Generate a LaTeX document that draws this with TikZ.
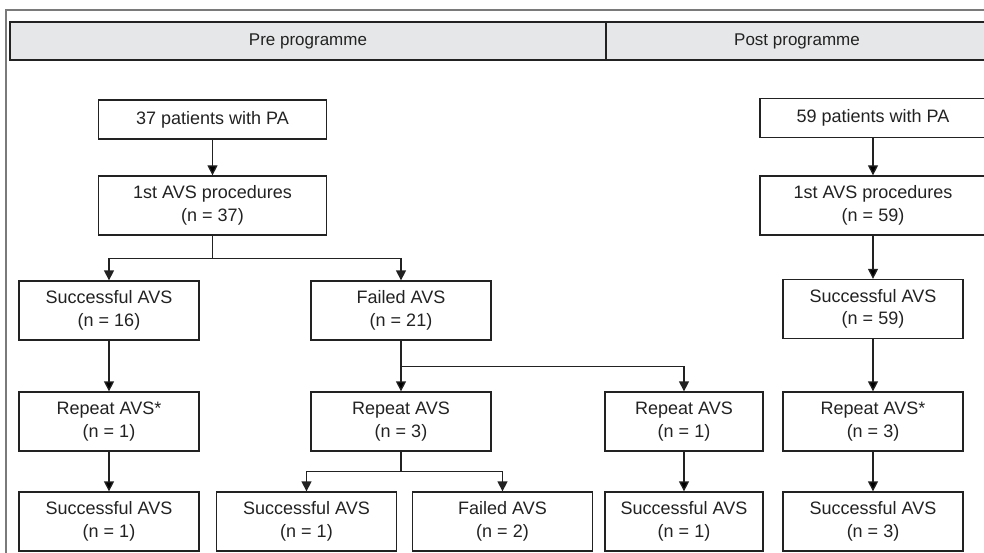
\documentclass[tikz,border=0pt]{standalone}
\usepackage{fontspec}
\setmainfont{Liberation Sans}
\usetikzlibrary{arrows.meta}

\definecolor{headgray}{HTML}{E6E7E8}
\definecolor{inkgray}{HTML}{222222}
\definecolor{framegray}{HTML}{7A7A7A}

\begin{document}
\begin{tikzpicture}[x=1pt, y=-1pt,
    box/.style={draw=inkgray, line width=1.3pt, text=inkgray, align=center,
        minimum width=180pt, minimum height=59pt, inner sep=0pt,
        font=\fontsize{18}{22.5}\selectfont},
    wide/.style={box, minimum width=228pt},
    slim/.style={box, minimum width=158pt},
    arr/.style={draw=inkgray, line width=1.3pt,
        -{Triangle[length=10pt, width=10pt]}},
    headtext/.style={text=inkgray, font=\fontsize{17}{20}\selectfont}]
    \clip (0,0) rectangle (984,553);
    \draw[framegray, line width=1.1pt] (6,10) rectangle (1000,570);
    \draw[inkgray, fill=headgray, line width=1.3pt] (10,22) rectangle (1000,60);
    \draw[inkgray, line width=1.3pt] (606,22) -- (606,60);
    \node[headtext] (pre) at (308,41) {Pre programme};
    \node[headtext] (post) at (797,41) {Post programme};

    \node[wide, minimum height=39pt] (p37) at (212.5,119.5) {37 patients with PA};
    \node[wide] (a37) at (212.5,205.5) {1st AVS procedures\\(n = 37)};
    \node[box] (s16) at (109,310.5) {Successful AVS\\(n = 16)};
    \node[box] (f21) at (401,310.5) {Failed AVS\\(n = 21)};
    \node[box] (rA) at (109,421.5) {Repeat AVS*\\(n = 1)};
    \node[box] (r3) at (401,421.5) {Repeat AVS\\(n = 3)};
    \node[slim] (r1) at (684,421.5) {Repeat AVS\\(n = 1)};
    \node[box] (sA) at (109,521.5) {Successful AVS\\(n = 1)};
    \node[box] (sB) at (306.5,521.5) {Successful AVS\\(n = 1)};
    \node[box] (fB) at (502.5,521.5) {Failed AVS\\(n = 2)};
    \node[slim] (sC) at (684,521.5) {Successful AVS\\(n = 1)};

    \node[wide, minimum width=226pt, minimum height=39pt] (p59) at (873,118) {59 patients with PA};
    \node[wide, minimum width=226pt] (a59) at (873,205.5) {1st AVS procedures\\(n = 59)};
    \node[box] (s59) at (873,309) {Successful AVS\\(n = 59)};
    \node[box] (rS) at (873,421.5) {Repeat AVS*\\(n = 3)};
    \node[box] (s3) at (873,521.5) {Successful AVS\\(n = 3)};

    \path[arr]
    (p37) edge (a37)
    (s16) edge (rA)
    (rA) edge (sA)
    (f21) edge (r3)
    (r1) edge (sC)
    (p59) edge (a59)
    (a59) edge (s59)
    (s59) edge (rS)
    (rS) edge (s3);
    \draw[arr] (a37.south) -- ++(0,23) -| (s16.north);
    \draw[arr] (a37.south) -- ++(0,23) -| (f21.north);
    \draw[arr] (f21.south) -- ++(0,26) -| (r1.north);
    \draw[arr] (r3.south) -- ++(0,20) -| (sB.north);
    \draw[arr] (r3.south) -- ++(0,20) -| (fB.north);
\end{tikzpicture}
\end{document}
